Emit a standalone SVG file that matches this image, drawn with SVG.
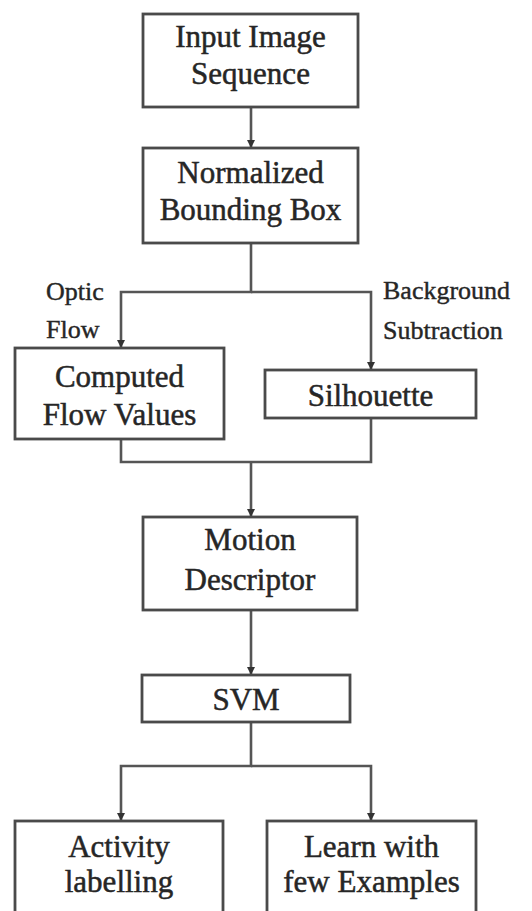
<svg xmlns="http://www.w3.org/2000/svg" width="532" height="911" viewBox="0 0 532 911">
  <style>
    .box { fill: #ffffff; stroke: #4a4a4a; stroke-width: 2.8; }
    .link { fill: none; stroke: #555555; stroke-width: 2.6; }
    .t { font-family: 'Liberation Serif', 'Tinos', 'DejaVu Serif', serif; font-size: 31px; fill: #262626; stroke: #262626; stroke-width: 0.5; text-anchor: middle; }
    .lbl { font-family: 'Liberation Serif', 'Tinos', 'DejaVu Serif', serif; font-size: 26px; fill: #262626; stroke: #262626; stroke-width: 0.4; }
  </style>
  <defs>
    <marker id="arrow" markerWidth="8" markerHeight="8" refX="7" refY="4" orient="auto" markerUnits="userSpaceOnUse">
      <path d="M0,0 L8,4 L0,8 Z" fill="#333333"/>
    </marker>
  </defs>
  <rect width="532" height="911" fill="#ffffff"/>

  <g id="connectors">
    <path class="link" d="M251,107 V147" marker-end="url(#arrow)"/>
    <path class="link" d="M251,243 V292 H121 V347" marker-end="url(#arrow)"/>
    <path class="link" d="M251,292 H371 V369" marker-end="url(#arrow)"/>
    <path class="link" d="M121,439 V462 H371 V418"/>
    <path class="link" d="M251,462 V516" marker-end="url(#arrow)"/>
    <path class="link" d="M251,610 V674" marker-end="url(#arrow)"/>
    <path class="link" d="M251,722 V766 H121 V820" marker-end="url(#arrow)"/>
    <path class="link" d="M251,766 H371 V820" marker-end="url(#arrow)"/>
  </g>

  <g id="edge-labels">
    <text class="lbl" x="46" y="300">Optic</text>
    <text class="lbl" x="46" y="338">Flow</text>
    <text class="lbl" x="383" y="299">Background</text>
    <text class="lbl" x="383" y="339">Subtraction</text>
  </g>

  <g id="input">
    <rect class="box" x="143" y="14" width="215" height="93"/>
    <text class="t" x="250.5" y="47">Input Image</text>
    <text class="t" x="250.5" y="84">Sequence</text>
  </g>

  <g id="normalized">
    <rect class="box" x="143" y="148" width="215" height="95"/>
    <text class="t" x="250.5" y="183">Normalized</text>
    <text class="t" x="250.5" y="220">Bounding Box</text>
  </g>

  <g id="flow">
    <rect class="box" x="15" y="348" width="209" height="91"/>
    <text class="t" x="119.5" y="387">Computed</text>
    <text class="t" x="119.5" y="425">Flow Values</text>
  </g>

  <g id="silhouette">
    <rect class="box" x="265" y="370" width="211" height="48"/>
    <text class="t" x="370.5" y="406">Silhouette</text>
  </g>

  <g id="motion">
    <rect class="box" x="143" y="517" width="214" height="93"/>
    <text class="t" x="250" y="550">Motion</text>
    <text class="t" x="250" y="590">Descriptor</text>
  </g>

  <g id="svm">
    <rect class="box" x="142" y="675" width="208" height="47"/>
    <text class="t" x="246" y="710">SVM</text>
  </g>

  <g id="activity">
    <rect class="box" x="15" y="821" width="208" height="100"/>
    <text class="t" x="119" y="857">Activity</text>
    <text class="t" x="119" y="892">labelling</text>
  </g>

  <g id="learn">
    <rect class="box" x="267" y="821" width="209" height="100"/>
    <text class="t" x="371.5" y="857">Learn with</text>
    <text class="t" x="371.5" y="892">few Examples</text>
  </g>
</svg>
